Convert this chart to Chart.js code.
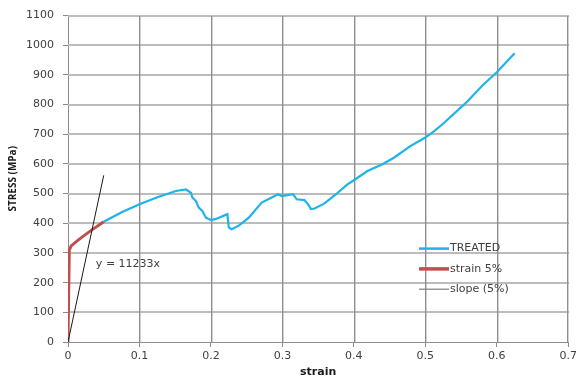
<!DOCTYPE html>
<html>
<head>
<meta charset="utf-8">
<script src="https://cdn.jsdelivr.net/npm/chart.js@4"></script>
<style>
  html, body { margin: 0; padding: 0; }
  #wrap { width: 580px; height: 378px; }
</style>
</head>
<body>
<div id="wrap"><canvas id="c" width="580" height="378"></canvas></div>
<script>
// Stress–strain curve of the treated specimen (strain, stress in MPa)
const treatedStrain = [0.050, 0.075, 0.100, 0.125, 0.151, 0.165, 0.172, 0.174, 0.179, 0.183, 0.188, 0.193, 0.200, 0.206, 0.223, 0.225, 0.229, 0.239, 0.253, 0.271, 0.285, 0.294, 0.299, 0.315, 0.320, 0.331, 0.336, 0.340, 0.345, 0.359, 0.375, 0.391, 0.400, 0.419, 0.440, 0.456, 0.479, 0.500, 0.512, 0.526, 0.549, 0.558, 0.581, 0.600, 0.625];
const treatedStress = [405, 437, 464, 488, 509, 514, 503, 487, 475, 453, 442, 419, 411, 414, 431, 386, 380, 392, 419, 470, 487, 498, 492, 498, 481, 478, 464, 448, 450, 467, 498, 531, 545, 576, 599, 621, 660, 689, 710, 738, 789, 809, 867, 909, 973];

// First 5 % of strain
const elasticStrain = [0, 0.0018, 0.0044, 0.015, 0.030, 0.050];
const elasticStress = [0, 310, 324, 345, 372, 405];

// Linear fit through the origin over the first 5 %
const slopeModulus = 11233;
const slopeStrain = [0, 0.05];
const slopeStress = slopeStrain.map(e => slopeModulus * e);

// Axis ticks
const xTicks = [0, 0.1, 0.2, 0.3, 0.4, 0.5, 0.6, 0.7];
const yTicks = [0, 100, 200, 300, 400, 500, 600, 700, 800, 900, 1000, 1100];

const seriesNames = ['TREATED', 'strain 5%', 'slope (5%)'];
const seriesColors = ['#1cb4ea', '#c0504d', '#1a1a1a'];

const pts = (xs, ys) => xs.map((x, i) => ({ x: x, y: ys[i] }));

const FONT = "'DejaVu Sans', Verdana, sans-serif";

// Plot-area grid, painted as thin filled bars on the scale positions
const plotGrid = {
  id: 'plotGrid',
  beforeDatasetsDraw(chart) {
    const ctx = chart.ctx;
    const a = chart.chartArea;
    const xs = chart.scales.x, ys = chart.scales.y;
    const left = Math.round(a.left), right = Math.round(a.right);
    const top = Math.round(a.top), bottom = Math.round(a.bottom);
    ctx.save();
    // horizontal lines
    ctx.fillStyle = '#bcbcbc';
    yTicks.forEach(v => {
      if (v === yTicks[0]) return;
      const y = Math.round(ys.getPixelForValue(v));
      ctx.fillRect(left, y - 1, right - left + 1, 2);
    });
    // vertical lines
    ctx.fillStyle = '#8e8e8e';
    xTicks.forEach(v => {
      if (v === xTicks[0]) return;
      const x = Math.min(Math.round(xs.getPixelForValue(v)), right - 1);
      ctx.fillRect(x, top, 1.4, bottom - top);
    });
    ctx.restore();
  }
};

// Legend drawn inside the plot area, lower right
const insideLegend = {
  id: 'insideLegend',
  afterDatasetsDraw(chart) {
    const ctx = chart.ctx;
    const a = chart.chartArea;
    const x0 = a.left + 351;
    const y0 = a.top + 233;
    const widths = [2.5, 3.5, 1.2];
    const colors = ['#1cb4ea', '#c0504d', '#7f7f7f'];
    ctx.save();
    ctx.font = '11px ' + FONT;
    ctx.textBaseline = 'middle';
    ctx.textAlign = 'left';
    chart.data.datasets.forEach((ds, i) => {
      const y = y0 + i * 20.3;
      ctx.strokeStyle = colors[i];
      ctx.lineWidth = widths[i];
      ctx.beginPath();
      ctx.moveTo(x0, y);
      ctx.lineTo(x0 + 30, y);
      ctx.stroke();
      ctx.fillStyle = '#404040';
      ctx.fillText(ds.label, x0 + 31, y);
    });
    ctx.restore();
  }
};

// Trendline equation label
const equationLabel = {
  id: 'equationLabel',
  afterDatasetsDraw(chart) {
    const ctx = chart.ctx;
    const xs = chart.scales.x, ys = chart.scales.y;
    ctx.save();
    ctx.font = '11px ' + FONT;
    ctx.fillStyle = '#404040';
    ctx.textBaseline = 'middle';
    ctx.textAlign = 'left';
    ctx.fillText('y = ' + slopeModulus + 'x', xs.getPixelForValue(0.039), ys.getPixelForValue(264));
    ctx.restore();
  }
};

new Chart(document.getElementById('c'), {
  type: 'scatter',
  data: {
    datasets: [
      {
        label: seriesNames[0],
        data: pts(treatedStrain, treatedStress),
        showLine: true,
        borderColor: seriesColors[0],
        borderWidth: 2.2,
        pointRadius: 0,
        tension: 0,
        order: 3
      },
      {
        label: seriesNames[1],
        data: pts(elasticStrain, elasticStress),
        showLine: true,
        borderColor: seriesColors[1],
        borderWidth: 3,
        pointRadius: 0,
        tension: 0,
        order: 2
      },
      {
        label: seriesNames[2],
        data: pts(slopeStrain, slopeStress),
        showLine: true,
        borderColor: seriesColors[2],
        borderWidth: 1,
        pointRadius: 0,
        tension: 0,
        order: 1
      }
    ]
  },
  options: {
    responsive: false,
    animation: false,
    devicePixelRatio: 1,
    layout: { padding: { top: 14, right: 7, left: 0, bottom: 0 } },
    plugins: {
      legend: { display: false },
      tooltip: { enabled: false }
    },
    scales: {
      x: {
        type: 'linear',
        min: xTicks[0],
        max: xTicks[xTicks.length - 1],
        afterFit: s => { s.height = 36; },
        afterBuildTicks: s => { s.ticks = xTicks.map(v => ({ value: v })); },
        ticks: {
          font: { family: FONT, size: 11 },
          color: '#404040',
          padding: 3,
          maxRotation: 0,
          callback: v => String(v)
        },
        grid: { color: '#8c8c8c', lineWidth: 1, tickLength: 5, drawOnChartArea: false },
        border: { color: '#8c8c8c', width: 1 },
        title: {
          display: true,
          text: 'strain',
          font: { family: FONT, size: 11, weight: 'bold', lineHeight: 1 },
          color: '#1a1a1a',
          padding: { top: 0, bottom: 0 }
        }
      },
      y: {
        type: 'linear',
        min: yTicks[0],
        max: yTicks[yTicks.length - 1],
        afterFit: s => { s.width = 68; },
        ticks: {
          stepSize: yTicks[1] - yTicks[0],
          font: { family: FONT, size: 11 },
          color: '#404040',
          padding: 9,
          callback: v => String(v)
        },
        grid: { color: '#8c8c8c', lineWidth: 1, tickLength: 5, drawOnChartArea: false },
        border: { color: '#8c8c8c', width: 1 },
        title: {
          display: true,
          text: 'STRESS (MPa)',
          font: { family: "'Liberation Sans Narrow', 'Open Sans', sans-serif", size: 10, weight: 'bold', lineHeight: 1 },
          color: '#1a1a1a',
          padding: { top: 8, bottom: 0 }
        }
      }
    }
  },
  plugins: [plotGrid, equationLabel, insideLegend]
});
</script>
</body>
</html>
